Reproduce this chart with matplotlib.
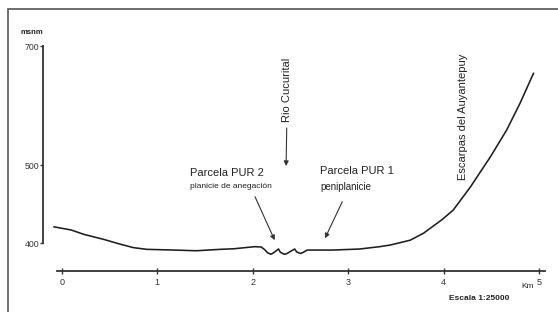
import numpy as np
import matplotlib
matplotlib.use('Agg')
import matplotlib.pyplot as plt
from matplotlib.patches import Rectangle

plt.rcParams['font.family'] = ['Liberation Sans', 'DejaVu Sans']

# perfil topográfico (km, msnm)
dist_km = [-0.08, 0.10, 0.23, 0.44, 0.61, 0.75, 0.89, 1.17, 1.41, 1.66, 1.80,
           2.02, 2.09, 2.13, 2.155, 2.19, 2.22, 2.27, 2.29, 2.33, 2.36, 2.40,
           2.44, 2.46, 2.50, 2.53, 2.57, 2.84, 3.12, 3.33, 3.44, 3.65, 3.79,
           3.98, 4.10, 4.28, 4.49, 4.66, 4.80, 4.94]
elev_m = [421, 417, 411.5, 405, 399, 394.5, 392.3, 391.4, 390.5, 392.3, 393,
          395.7, 395.3, 391.4, 388, 386, 388, 392.7, 388.5, 386, 387, 390,
          392.7, 389, 387, 388.5, 391.4, 391.4, 392.7, 395.7, 397.8, 404, 413,
          430, 442.5, 472, 514, 559, 604, 654]

x_ticks = [0, 1, 2, 3, 4, 5]
y_ticks = [400, 500, 700]

W, H = 558, 312
fig = plt.figure(figsize=(W / 100, H / 100), dpi=100)


def fx(px):
    return px / W


def fy(py):
    return 1 - py / H


ax = fig.add_axes([fx(33.05), fy(300), (548.75 - 33.05) / W, 270 / H])


# la escala vertical del dibujo original no es la misma arriba y abajo de 500
def fwd(v):
    v = np.asarray(v, float)
    return np.where(v < 500, (v - 400) * 0.783, 78.3 + (v - 500) * 0.595)


def inv(f):
    f = np.asarray(f, float)
    return np.where(f < 78.3, 400 + f / 0.783, 500 + (f - 78.3) / 0.595)


ax.set_yscale('function', functions=(fwd, inv))
ax.set_xlim(-0.3, 5.1)
ax.set_ylim(327.6, 726.9)
ax.patch.set_alpha(0)

ax.plot(dist_km, elev_m, color='#1e1e1e', lw=1.15)

# ejes
for s in ['top', 'right']:
    ax.spines[s].set_visible(False)
ax.spines['left'].set_position(('data', -0.193))
ax.spines['left'].set_bounds(400, 700)
ax.spines['bottom'].set_position(('data', 365))
ax.spines['bottom'].set_bounds(-0.046, 5.06)
for s in ['left', 'bottom']:
    ax.spines[s].set_linewidth(1.3)
    ax.spines[s].set_color('#333333')

ax.set_xticks(x_ticks)
ax.set_yticks(y_ticks)
ax.set_xticklabels([str(t) for t in x_ticks])
ax.set_yticklabels([str(t) for t in y_ticks])
ax.tick_params(axis='x', direction='inout', length=5, width=1, pad=2.5,
               labelsize=6.5, colors='#333333')
ax.tick_params(axis='y', direction='out', length=2, width=1, pad=1,
               labelsize=6.3, colors='#333333')
ax.minorticks_off()

# marco
fig.add_artist(Rectangle((fx(8), -0.1), 1.2, fy(9.3) + 0.1, transform=fig.transFigure,
                         fill=False, edgecolor='#555555', lw=1.2, clip_on=False))

txt = '#222222'
fig.text(fx(32), fy(32), 'msnm', fontsize=5.5, fontweight='bold', color=txt,
         ha='center', va='center')
fig.text(fx(286.7), fy(90), 'Rio Cucurital', fontsize=8, rotation=90, color=txt,
         ha='center', va='center')
fig.text(fx(190), fy(173.3), 'Parcela PUR 2', fontsize=8, color=txt,
         ha='left', va='center')
fig.text(fx(190), fy(186), 'planicie de anegación', fontsize=6, color=txt,
         ha='left', va='center')
fig.text(fx(320), fy(170.7), 'Parcela PUR 1', fontsize=8, color=txt,
         ha='left', va='center')
fig.text(fx(320), fy(186.7), 'peniplanicie', fontsize=7, color=txt,
         ha='left', va='center')
fig.text(fx(462.7), fy(116.5), 'Escarpas del Auyantepuy', fontsize=8, rotation=90,
         color=txt, ha='center', va='center')
fig.text(fx(527.5), fy(286.5), 'Km', fontsize=6, color=txt, ha='center', va='center')
fig.text(fx(479), fy(298.3), 'Escala 1:25000', fontsize=6, fontweight='bold',
         color=txt, ha='center', va='center')

# flechas
arrow = dict(arrowstyle='-|>', lw=0.8, color='#333333', mutation_scale=7,
             shrinkA=0, shrinkB=0)
ax.annotate('', xy=(2.35, 498.7), xytext=(fx(286.7), fy(128)),
            textcoords='figure fraction', arrowprops=arrow)
ax.annotate('', xy=(2.23, 404), xytext=(fx(255), fy(196.7)),
            textcoords='figure fraction', arrowprops=arrow)
ax.annotate('', xy=(2.757, 406.4), xytext=(fx(342.3), fy(201.7)),
            textcoords='figure fraction', arrowprops=arrow)

fig.savefig('out.png', dpi=100)
